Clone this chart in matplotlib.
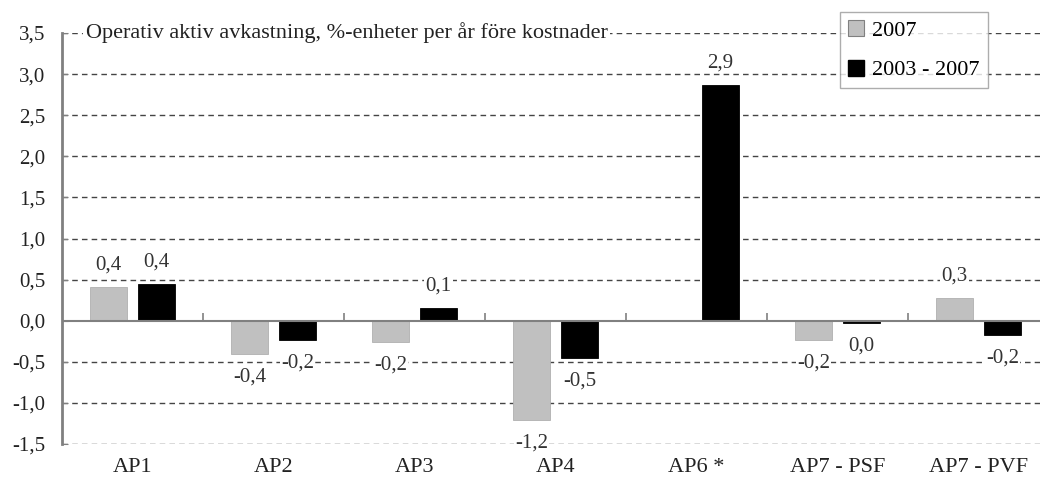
import matplotlib
matplotlib.use("Agg")
import matplotlib.pyplot as plt
import matplotlib.transforms as mtrans
import numpy as np
from matplotlib.patches import Patch

categories = ["AP1", "AP2", "AP3", "AP4", "AP6 *", "AP7 - PSF", "AP7 - PVF"]
vals_2007 = [0.41, -0.40, -0.26, -1.21, 0.0, -0.23, 0.28]
vals_0307 = [0.45, -0.23, 0.16, -0.45, 2.87, -0.03, -0.18]
labels_2007 = ["0,4", "-0,4", "-0,2", "-1,2", None, "-0,2", "0,3"]
labels_0307 = ["0,4", "-0,2", "0,1", "-0,5", "2,9", "0,0", "-0,2"]
yticks = [-1.5, -1.0, -0.5, 0.0, 0.5, 1.0, 1.5, 2.0, 2.5, 3.0, 3.5]
ytick_labels = ["-1,5", "-1,0", "-0,5", "0,0", "0,5", "1,0", "1,5", "2,0", "2,5", "3,0", "3,5"]
title = "Operativ aktiv avkastning, %-enheter per år före kostnader"
series_names = ["2007", "2003 - 2007"]

plt.rcParams['font.family'] = ['Liberation Serif', 'DejaVu Serif']

fig = plt.figure(figsize=(10.4, 4.92), dpi=100)
ax = fig.add_axes([62/1040, 1-444/492, 987/1040, (444-33)/492])

x = np.arange(len(categories))
w = 0.265
off = 0.17
gray = "#c0c0c0"
b1 = ax.bar(x - off, vals_2007, w, color=gray, edgecolor="#b0b0b0", linewidth=0.6, zorder=3)
b2 = ax.bar(x + off, vals_0307, w, color="black", edgecolor="black", linewidth=0.6, zorder=3)

ax.set_xlim(-0.5, 6.5)
ax.set_ylim(-1.5, 3.5)

for xs, vals, labs in ((x - off, vals_2007, labels_2007), (x + off, vals_0307, labels_0307)):
    for xi, v, lab in zip(xs, vals, labs):
        if lab is None:
            continue
        dy = 22 if v >= 0 else -23
        ax.annotate(lab, (xi, v), xytext=(0, dy),
                    textcoords="offset pixels", ha="center", va="center",
                    fontsize=15, color="#333333", zorder=4,
                    bbox=dict(boxstyle="square,pad=0.05", fc="white", ec="none"))

# gridlines
for yv in yticks:
    if yv != 0:
        ax.axhline(yv, color="#444444", linestyle=(0, (4, 3)), linewidth=1.0, zorder=1)
ax.axhline(0, color="#808080", linewidth=1.5, zorder=4)

for s in ["top", "right", "bottom"]:
    ax.spines[s].set_visible(False)
ax.spines["left"].set_color("#808080")
ax.spines["left"].set_linewidth(2.0)

ax.set_yticks(yticks)
ax.set_yticklabels(ytick_labels, fontsize=15, color="#222222")
ax.tick_params(axis="y", direction="in", length=4, color="#808080", pad=12)

ax.set_xticks(x)
ax.set_xticklabels(categories, fontsize=16, color="#222222")
ax.tick_params(axis="x", length=0, pad=10)

sec = ax.secondary_xaxis(0.3)
sec.set_xticks(np.arange(0.5, 6.5, 1.0))
sec.set_xticklabels([])
sec.tick_params(direction="in", length=6, color="#808080", width=1.2)
sec.spines["bottom"].set_visible(False)
sec.spines["top"].set_visible(False)

ax.text(0.024, 3.5, title,
        transform=mtrans.blended_transform_factory(ax.transAxes, ax.transData),
        ha="left", va="center", fontsize=16, color="#222222", zorder=5,
        bbox=dict(boxstyle="square,pad=0.12", fc="white", ec="none"))

handles = [Patch(facecolor=gray, edgecolor="#808080", linewidth=0.8),
           Patch(facecolor="black", edgecolor="black")]
leg = fig.legend(handles, series_names, loc="upper left",
                 bbox_to_anchor=(840/1040, 1-12/492), fontsize=16,
                 frameon=True, fancybox=False, edgecolor="#999999",
                 handlelength=0.75, handleheight=0.75, handletextpad=0.35,
                 labelspacing=0.85, borderpad=0.35, borderaxespad=0)
leg.get_frame().set_linewidth(1.0)

fig.savefig("out.png", dpi=100)
